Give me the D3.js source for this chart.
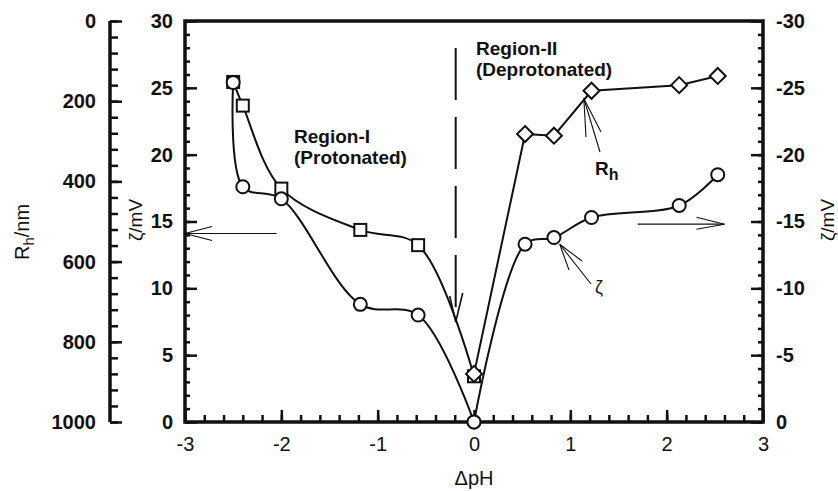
<!DOCTYPE html>
<html>
<head>
<meta charset="utf-8">
<script src="https://cdn.jsdelivr.net/npm/d3@7"></script>
<style>
  html, body { margin: 0; padding: 0; background: #fff; }
  svg { display: block; font-family: "Liberation Sans", Arial, sans-serif; }
</style>
</head>
<body>
<svg id="chart" width="838" height="491"></svg>
<script>
// ΔpH values for the protonated (I) and deprotonated (II) regions
const dpH_I  = [-2.5, -2.4, -2.0, -1.18, -0.58, 0];
const dpH_II = [0, 0.53, 0.83, 1.22, 2.13, 2.53];

// Hydrodynamic radius, nm
const Rh_I  = [152, 211, 418, 521, 559, 886];
const Rh_II = [880, 282, 286, 174, 160, 137];

// Zeta potential, mV
const zeta_I  = [25.4, 17.6, 16.7, 8.8, 8.0, 0];
const zeta_II = [0, -13.3, -13.8, -15.3, -16.2, -18.5];

// Axis ticks
const xTicks      = [-3, -2, -1, 0, 1, 2, 3];
const rhTicks     = [0, 200, 400, 600, 800, 1000];
const zetaTicksL  = [0, 5, 10, 15, 20, 25, 30];
const zetaTicksR  = [0, -5, -10, -15, -20, -25, -30];

const svg = d3.select("#chart");
const L = 185, R = 763, T = 21, B = 422;

const x      = d3.scaleLinear().domain([-3, 3]).range([L, R]);
const yZetaL = d3.scaleLinear().domain([0, 30]).range([B, T]);
const yZetaR = d3.scaleLinear().domain([0, -30]).range([B, T]);
const yRh    = d3.scaleLinear().domain([0, 1000]).range([T, B]);

const fmt = d => String(d);

function styleAxis(g, bold, size) {
  g.selectAll("path.domain").remove();
  g.selectAll("line").attr("stroke", "#111").attr("stroke-width", 2.5);
  g.selectAll("text")
    .attr("fill", "#111")
    .style("font-size", size + "px")
    .style("font-weight", bold ? "bold" : "normal")
    .style("font-family", '"Liberation Sans", Arial, sans-serif');
}

// ---- Outer Rh axis (inverted) ----
const rhAxisG = svg.append("g").attr("transform", `translate(110,0)`);
rhAxisG.append("g")
  .call(d3.axisLeft(yRh).tickValues(d3.range(0, 1001, 40)).tickSize(-8).tickFormat(""))
  .call(g => styleAxis(g, true, 20));
rhAxisG.append("g")
  .call(d3.axisLeft(yRh).tickValues(rhTicks).tickSize(-12).tickPadding(14).tickFormat(fmt))
  .call(g => styleAxis(g, true, 20));
rhAxisG.append("line").attr("x1", 0).attr("x2", 0).attr("y1", T).attr("y2", B)
  .attr("stroke", "#111").attr("stroke-width", 3.5);

// ---- Inner left zeta axis ----
const zl = svg.append("g").attr("transform", `translate(${L},0)`);
zl.append("g")
  .call(d3.axisLeft(yZetaL).tickValues(d3.range(0, 31, 1)).tickSize(-5).tickFormat(""))
  .call(g => styleAxis(g, true, 20));
zl.append("g")
  .call(d3.axisLeft(yZetaL).tickValues(zetaTicksL).tickSize(-12).tickPadding(12).tickFormat(fmt))
  .call(g => styleAxis(g, true, 20));

// ---- Right zeta axis ----
const zr = svg.append("g").attr("transform", `translate(${R},0)`);
zr.append("g")
  .call(d3.axisRight(yZetaR).tickValues(d3.range(0, -31, -1)).tickSize(-5).tickFormat(""))
  .call(g => styleAxis(g, true, 20));
zr.append("g")
  .call(d3.axisRight(yZetaR).tickValues(zetaTicksR).tickSize(-12).tickPadding(13).tickFormat(fmt))
  .call(g => styleAxis(g, true, 20));

// ---- Bottom ΔpH axis ----
const xb = svg.append("g").attr("transform", `translate(0,${B})`);
xb.append("g")
  .call(d3.axisBottom(x).tickValues(d3.range(-3, 3.001, 0.2)).tickSize(-7).tickFormat(""))
  .call(g => styleAxis(g, false, 20));
xb.append("g")
  .call(d3.axisBottom(x).tickValues(xTicks).tickSize(-12).tickPadding(15).tickFormat(fmt))
  .call(g => styleAxis(g, false, 20));

// Frame
svg.append("rect").attr("x", L).attr("y", T).attr("width", R - L).attr("height", B - T)
  .attr("fill", "none").attr("stroke", "#111").attr("stroke-width", 3.5);

// ---- Axis titles ----
const rhTitle = svg.append("text")
  .attr("transform", "translate(29,232) rotate(-90)")
  .attr("text-anchor", "middle")
  .style("font-size", "20px").attr("fill", "#111");
rhTitle.append("tspan").text("R");
rhTitle.append("tspan").text("h").attr("dy", 5).style("font-size", "15px");
rhTitle.append("tspan").text("/nm").attr("dy", -5);

svg.append("text")
  .attr("transform", "translate(142,220) rotate(-90)")
  .attr("text-anchor", "middle")
  .style("font-size", "19px").attr("fill", "#111")
  .text("ζ/mV");

svg.append("text")
  .attr("transform", "translate(834,220) rotate(-90)")
  .attr("text-anchor", "middle")
  .style("font-size", "19px").attr("fill", "#111")
  .text("ζ/mV");

svg.append("text")
  .attr("x", x(0)).attr("y", 485)
  .attr("text-anchor", "middle")
  .style("font-size", "20px").attr("fill", "#111")
  .text("ΔpH");

// ---- Series lines ----
const rhI   = dpH_I.map((d, i) => [x(d), yRh(Rh_I[i])]);
const rhII  = dpH_II.map((d, i) => [x(d), yRh(Rh_II[i])]);
const zI    = dpH_I.map((d, i) => [x(d), yZetaL(zeta_I[i])]);
const zII   = dpH_II.map((d, i) => [x(d), yZetaR(zeta_II[i])]);

const smooth = d3.line().curve(d3.curveCatmullRom.alpha(0.5));
const straight = d3.line();

const lines = svg.append("g").attr("fill", "none").attr("stroke", "#111").attr("stroke-width", 2);
lines.append("path").attr("d", smooth(rhI));
lines.append("path").attr("d", smooth(zI));
lines.append("path").attr("d", smooth(zII));
lines.append("path").attr("d", straight(rhII));

// ---- Annotations ----
const ann = svg.append("g").attr("fill", "none").attr("stroke", "#111").attr("stroke-width", 1.1);

// left-pointing arrow to the left zeta axis
const ayL = yZetaL(14.1);
ann.append("line").attr("x1", x(-2.05)).attr("x2", L).attr("y1", ayL).attr("y2", ayL);
ann.append("polyline").attr("points", `${L + 27},${ayL - 7} ${L},${ayL} ${L + 27},${ayL + 7}`);

// right-pointing arrow to the right zeta axis
const ayR = yZetaR(-14.8);
ann.append("line").attr("x1", x(1.70)).attr("x2", x(2.60)).attr("y1", ayR).attr("y2", ayR);
ann.append("polyline").attr("points", `${x(2.60) - 28},${ayR - 7} ${x(2.60)},${ayR} ${x(2.60) - 28},${ayR + 5}`);

// dashed boundary arrow between the regions
const xd = x(-0.19);
svg.append("line").attr("x1", xd).attr("x2", xd).attr("y1", 48).attr("y2", 322)
  .attr("stroke", "#111").attr("stroke-width", 2).attr("stroke-dasharray", "52 17");
svg.append("polyline").attr("points", `${xd - 6},${296} ${xd},${322} ${xd + 7},${293}`)
  .attr("fill", "none").attr("stroke", "#111").attr("stroke-width", 1.6);

// pointer to the Rh curve
const pR = [x(1.14), yZetaL(24.2)];
ann.append("line").attr("x1", pR[0]).attr("y1", pR[1]).attr("x2", 600).attr("y2", 152);
ann.append("line").attr("x1", pR[0]).attr("y1", pR[1]).attr("x2", 586).attr("y2", 137);
ann.append("line").attr("x1", pR[0]).attr("y1", pR[1]).attr("x2", 601).attr("y2", 132);

// pointer to the zeta curve
const pZ = [x(0.89), yZetaR(-13.3)];
ann.append("line").attr("x1", pZ[0]).attr("y1", pZ[1]).attr("x2", 591).attr("y2", 284);
ann.append("line").attr("x1", pZ[0]).attr("y1", pZ[1]).attr("x2", 569).attr("y2", 270);
ann.append("line").attr("x1", pZ[0]).attr("y1", pZ[1]).attr("x2", 582).attr("y2", 261);

// ---- Markers ----
const mk = svg.append("g").attr("fill", "#fff").attr("stroke", "#111").attr("stroke-width", 2);
mk.selectAll("rect.sq").data(rhI).join("rect")
  .attr("x", d => d[0] - 6).attr("y", d => d[1] - 6).attr("width", 12).attr("height", 12);
mk.selectAll("circle.zi").data(zI).join("circle").attr("class", "zi")
  .attr("cx", d => d[0]).attr("cy", d => d[1]).attr("r", 6.5);
mk.selectAll("circle.zii").data(zII).join("circle").attr("class", "zii")
  .attr("cx", d => d[0]).attr("cy", d => d[1]).attr("r", 6.5);
mk.selectAll("path.dm").data(rhII).join("path").attr("class", "dm")
  .attr("d", d => `M${d[0]},${d[1] - 8}L${d[0] + 8},${d[1]}L${d[0]},${d[1] + 8}L${d[0] - 8},${d[1]}Z`);

// ---- Text labels ----
const lbl = svg.append("g").attr("fill", "#111").style("font-weight", "bold").style("font-size", "19px");
lbl.append("text").attr("x", 294).attr("y", 143).text("Region-I");
lbl.append("text").attr("x", 294).attr("y", 164).text("(Protonated)");
lbl.append("text").attr("x", 476).attr("y", 55).text("Region-II");
lbl.append("text").attr("x", 476).attr("y", 76).text("(Deprotonated)");

const rhLbl = lbl.append("text").attr("x", 595).attr("y", 175).style("font-size", "19px");
rhLbl.append("tspan").text("R");
rhLbl.append("tspan").text("h").attr("dy", 5).style("font-size", "16px");

svg.append("text").attr("x", 595).attr("y", 293).style("font-size", "18px").attr("fill", "#111").text("ζ");
</script>
</body>
</html>
